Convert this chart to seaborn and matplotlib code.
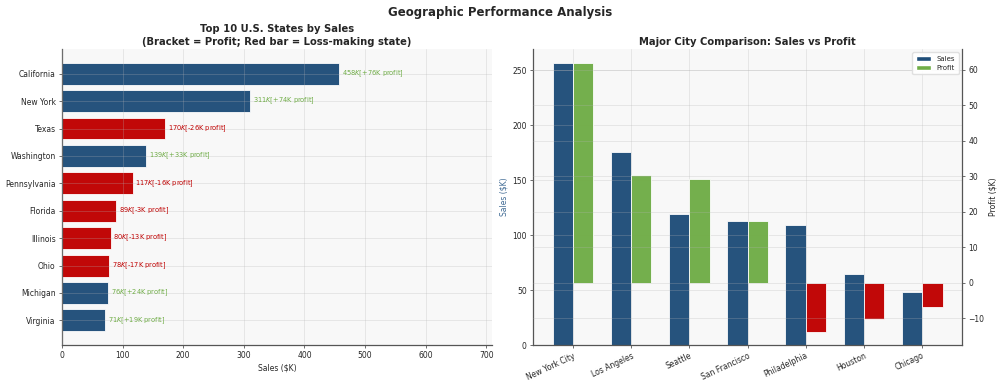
import numpy as np
import pandas as pd
import matplotlib
matplotlib.use("Agg")
import matplotlib.pyplot as plt
import seaborn as sns
from matplotlib.patches import Patch

# ---- data ----
states = ["California", "New York", "Texas", "Washington", "Pennsylvania",
          "Florida", "Illinois", "Ohio", "Michigan", "Virginia"]
state_sales = [457.69, 310.88, 170.19, 138.64, 116.51, 89.47, 80.17, 78.26, 76.27, 70.64]
state_profit = [76.38, 74.04, -25.73, 33.40, -15.56, -3.40, -12.61, -16.97, 24.46, 18.60]

cities = ["New York City", "Los Angeles", "Seattle", "San Francisco",
          "Philadelphia", "Houston", "Chicago"]
city_sales = [256.37, 175.85, 119.54, 112.67, 109.08, 64.50, 48.54]
city_profit = [62.04, 30.44, 29.16, 17.51, -13.84, -10.15, -6.65]

BLUE = "#1f4e79"
RED = "#c00000"
GREEN = "#70ad47"
GRID = dict(color="#b5b5b5", alpha=0.3, linewidth=0.6)

sns.set_theme(style="whitegrid")
plt.rcParams["font.family"] = ["DejaVu Sans"]

fig = plt.figure(figsize=(10, 3.86), dpi=100)
fig.patch.set_facecolor("white")
axL = fig.add_axes([0.062, 0.106, 0.430, 0.767])
axR = fig.add_axes([0.533, 0.106, 0.429, 0.767])

for a in (axL, axR):
    a.set_facecolor("#f8f8f8")

# ---- left: states ----
df_states = pd.DataFrame({"State": states, "Sales": state_sales, "Profit": state_profit})
df_states["Status"] = np.where(df_states["Profit"] < 0, "Loss", "Profit")
sns.barplot(data=df_states, y="State", x="Sales", hue="Status",
            palette={"Loss": RED, "Profit": BLUE}, dodge=False, width=0.8,
            saturation=1, edgecolor="white", linewidth=0.6, alpha=0.97,
            legend=False, ax=axL)
for i, (s, p) in enumerate(zip(state_sales, state_profit)):
    col = GREEN if p >= 0 else RED
    axL.annotate(f"${s:.0f}K [${p:+.0f}K profit]", xy=(s, i), xytext=(2, 0),
                 textcoords="offset points", va="center", ha="left",
                 fontsize=4.8, color=col)
axL.set_xlim(0, max(state_sales) * 1.55)
axL.set_ylim(len(states) - 0.1, -0.9)
axL.set_xlabel("Sales ($K)", fontsize=5.5, labelpad=2)
axL.set_ylabel("")
axL.set_title("Top 10 U.S. States by Sales\n(Bracket = Profit; Red bar = Loss-making state)",
              fontsize=7.2, fontweight="bold", pad=3, linespacing=1.3)
axL.tick_params(axis="both", labelsize=5.5, length=2.5, width=0.6, pad=2,
                left=True, bottom=True, color="#555555")
axL.grid(True, **GRID)
axL.set_axisbelow(False)
for sp in ("top", "right"):
    axL.spines[sp].set_visible(False)
for sp in ("left", "bottom"):
    axL.spines[sp].set_color("#555555")
    axL.spines[sp].set_linewidth(0.9)

# ---- right: cities ----
df_cs = pd.DataFrame({"City": cities, "Value": city_sales, "Metric": "Sales"})
df_cp = pd.DataFrame({"City": cities, "Value": city_profit, "Metric": "Profit"})
pal = {"Sales": BLUE, "Profit": GREEN}
sns.barplot(data=df_cs, x="City", y="Value", hue="Metric", hue_order=["Sales", "Profit"],
            palette=pal, width=0.7, dodge=True, saturation=1, edgecolor="white",
            linewidth=0.6, alpha=0.97, legend=False, ax=axR)
axR2 = axR.twinx()
sns.barplot(data=df_cp, x="City", y="Value", hue="Metric", hue_order=["Sales", "Profit"],
            palette=pal, width=0.7, dodge=True, saturation=1, edgecolor="white",
            linewidth=0.6, alpha=0.97, legend=False, ax=axR2)
for bar, p in zip(axR2.patches[:len(city_profit)], city_profit):
    bar.set_facecolor(GREEN if p >= 0 else RED)

axR.set_ylim(0, max(city_sales) * 1.05)
axR2.set_ylim(-17.5, 65.9)
axR.set_xlim(-0.685, len(cities) - 0.315)
axR.set_xlabel("")
axR2.set_xlabel("")
axR.set_ylabel("Sales ($K)", fontsize=5.5, color="#3f6a94", labelpad=3)
axR2.set_ylabel("Profit ($K)", fontsize=5.5, color="#222222", labelpad=3)
axR.set_title("Major City Comparison: Sales vs Profit", fontsize=7.2,
              fontweight="bold", pad=3)
axR.tick_params(axis="both", labelsize=5.5, length=2.5, width=0.6, pad=2,
                left=True, bottom=True, color="#555555")
axR2.tick_params(axis="y", labelsize=5.5, length=2.5, width=0.6, pad=2,
                 right=True, color="#555555")
plt.setp(axR.get_xticklabels(), rotation=25, ha="right", rotation_mode="anchor")
axR.grid(True, **GRID)
axR2.grid(True, axis="y", **GRID)
axR.set_axisbelow(False)
axR2.set_axisbelow(False)
axR.spines["top"].set_visible(False)
axR2.spines["top"].set_visible(False)
axR2.spines["left"].set_visible(False)
axR2.spines["bottom"].set_visible(False)
for sp in ("left", "bottom"):
    axR.spines[sp].set_color("#555555")
    axR.spines[sp].set_linewidth(0.9)
axR.spines["right"].set_visible(False)
axR2.spines["right"].set_color("#555555")
axR2.spines["right"].set_linewidth(0.9)

handles = [Patch(facecolor=BLUE, label="Sales"), Patch(facecolor=GREEN, label="Profit")]
axR2.legend(handles=handles, loc="upper right", fontsize=5, frameon=True,
            handlelength=2.2, handleheight=0.6, borderpad=0.5, labelspacing=0.4,
            facecolor="white", edgecolor="#dddddd", framealpha=0.9)

fig.suptitle("Geographic Performance Analysis", fontsize=8.5, fontweight="bold", y=0.985)

fig.savefig("out.png", dpi=100, facecolor="white")
